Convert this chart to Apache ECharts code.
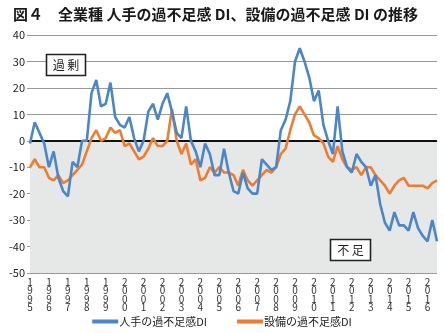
<!DOCTYPE html>
<html>
<head>
<meta charset="utf-8">
<script src="https://cdn.jsdelivr.net/npm/echarts@6/dist/echarts.min.js"></script>
<style>
html,body{margin:0;padding:0;background:#fff;}
#c{width:444px;height:333px;}
</style>
</head>
<body>
<div id="c"></div>
<script>
var years = [1995,1996,1997,1998,1999,2000,2001,2002,2003,2004,2005,2006,2007,2008,2009,2010,2011,2012,2013,2014,2015,2016];
var quartersInLastYear = 3;
var yTicks = [40,30,20,10,0,-10,-20,-30,-40,-50];
var laborDI = [-1,7,3,-1,-10,-4,-14,-19,-21,-8,-10,0,0,18,23,13,14,22,9,6,5,9,1,-4,0,11,14,8,14,18,11,3,1,13,0,-4,-10,-1,-5,-13,-13,-3,-12,-19,-20,-12,-18,-20,-20,-7,-9,-11,-10,4,8,15,30,35,30,24,15,19,6,0,-5,13,-4,-10,-12,-5,-8,-10,-17,-13,-24,-31,-34,-27,-32,-32,-34,-27,-33,-36,-38,-30,-38];
var equipDI = [-10,-7,-10,-10,-14,-15,-13,-16,-15,-13,-11,-9,-4,1,4,0,1,5,3,4,-2,-1,-4,-7,-6,-3,1,-2,-2,0,12,0,-5,-1,-9,-7,-15,-14,-10,-12,-10,-12,-12,-13,-17,-11,-15,-17,-15,-13,-11,-12,-10,-5,-3,4,10,13,10,7,2,1,-1,-6,-8,-2,-7,-10,-11,-10,-13,-10,-10,-13,-15,-17,-20,-17,-15,-14,-17,-17,-17,-17,-18,-16,-15];
var seriesNames = ['人手の過不足感DI','設備の過不足感DI'];

var categories = [];
years.forEach(function(y, yi){
  var n = (yi === years.length - 1) ? quartersInLastYear : 4;
  for (var q = 1; q <= n; q++) categories.push(y + 'Q' + q);
});

var chart = echarts.init(document.getElementById('c'), null, {renderer:'canvas'});
var font = '"Noto Sans CJK JP", "Noto Sans", sans-serif';
function box(x, y, w, h, t){
  return [
    {type: 'rect', z: 100, shape: {x: x, y: y, width: w, height: h},
     style: {fill: '#ffffff', stroke: '#222222', lineWidth: 1.6}},
    {type: 'text', z: 101, x: x + w / 2, y: y + h / 2,
     style: {text: t, fontFamily: font, fontSize: 12, fill: '#222', align: 'center', verticalAlign: 'middle'}}
  ];
}
chart.setOption({
  animation: false,
  backgroundColor: '#fff',
  title: {
    text: '図４　全業種 人手の過不足感 DI、設備の過不足感 DI の推移',
    left: 8, top: 2,
    textStyle: {fontFamily: font, fontSize: 15, fontWeight: 'bold', color: '#1a1a1a'}
  },
  legend: {
    bottom: 1, left: 'center',
    itemWidth: 26, itemHeight: 4, itemGap: 30, icon: 'rect',
    textStyle: {fontFamily: font, fontSize: 11, color: '#222', padding:[0,0,0,-4]},
    data: seriesNames
  },
  grid: {left: 30, right: 7, top: 35, bottom: 60},
  xAxis: {
    type: 'category', data: categories, boundaryGap: false,
    axisLine: {show: true, lineStyle: {color: '#999', width: 1}},
    axisTick: {show: false},
    axisLabel: {
      interval: 3, margin: 5, lineHeight: 8.3,
      fontFamily: font, fontSize: 10, color: '#333',
      formatter: function(v){ return v.slice(0,4).split('').join('\n'); }
    },
    splitLine: {show: false}
  },
  yAxis: {
    type: 'value', min: -50, max: 40, interval: 10,
    axisLine: {show: false},
    axisTick: {show: true, length: 3, lineStyle: {color: '#999'}},
    axisLabel: {fontFamily: font, fontSize: 11, color: '#222', margin: 5},
    splitLine: {show: true, lineStyle: {color: '#999', width: 1}}
  },
  graphic: box(46.5, 54.5, 39, 21, '過 剰').concat(box(330.5, 239.5, 40, 21, '不 足')),
  series: [
    {
      name: seriesNames[0], type: 'line', data: laborDI, showSymbol: false, z: 4,
      lineStyle: {color: '#4a86c8', width: 2.6}, itemStyle: {color: '#4a86c8'},
      markArea: {silent: true, itemStyle: {color: '#e6e7e7'}, data: [[{yAxis: 0}, {yAxis: -50}]]},
      markLine: {silent: true, symbol: 'none', label: {show: false}, lineStyle: {color: '#111', width: 2, type: 'solid'}, data: [{yAxis: 0}], z: 1}
    },
    {
      name: seriesNames[1], type: 'line', data: equipDI, showSymbol: false, z: 3,
      lineStyle: {color: '#ed7d31', width: 2.6}, itemStyle: {color: '#ed7d31'}
    }
  ]
});
</script>
</body>
</html>
